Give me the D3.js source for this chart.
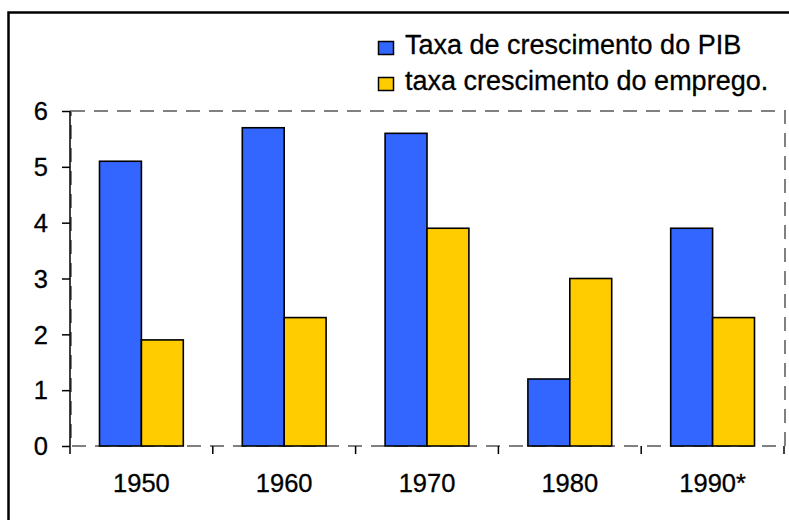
<!DOCTYPE html>
<html><head><meta charset="utf-8">
<script src="https://cdn.jsdelivr.net/npm/d3@7"></script>
<style>html,body{margin:0;padding:0;background:#fff;} svg{display:block;}</style>
</head><body>
<svg id="chart" width="789" height="520"></svg>
<script>
const categories = ["1950", "1960", "1970", "1980", "1990*"];
const seriesNames = ["Taxa de crescimento do PIB", "taxa crescimento do emprego."];
const pibValues = [5.1, 5.7, 5.6, 1.2, 3.9];
const empregoValues = [1.9, 2.3, 3.9, 3.0, 2.3];
const yTicks = [0, 1, 2, 3, 4, 5, 6];
const colors = ["#3366FF", "#FFCC00"];

(function () {
const svg = d3.select("#chart");
const font = "Liberation Sans, Arial, sans-serif";
const fs = 25.5;
const lfs = 27;

// outer border (extends beyond the picture at right/bottom)
svg.append("rect").attr("x", 8.5).attr("y", 12.5).attr("width", 800).attr("height", 530)
  .attr("fill", "none").attr("stroke", "#000").attr("stroke-width", 2.5);

const pl = 70, pr = 784, pt = 111, pb = 446;
const x = d3.scaleBand().domain(categories).range([pl, pr]).padding(0);
const step = x.step();
const gap = 29.5;
const x1 = d3.scaleBand().domain([0, 1]).range([gap, step - gap]).padding(0);
const y = d3.scaleLinear().domain([0, 6]).range([pb, pt]);

// dashed plot area
svg.append("rect").attr("x", pl + 1).attr("y", pt).attr("width", pr - pl).attr("height", pb - pt)
  .attr("fill", "none").attr("stroke", "#808080").attr("stroke-width", 2).attr("stroke-dasharray", "14,9");

// bars
const data = categories.map((c, i) => ({ c, vals: [pibValues[i], empregoValues[i]] }));
const g = svg.append("g");
g.selectAll("g.cat").data(data).join("g").attr("class", "cat")
  .attr("transform", d => `translate(${x(d.c)},0)`)
  .selectAll("rect").data(d => d.vals.map((v, k) => ({ v, k }))).join("rect")
  .attr("x", d => x1(d.k)).attr("width", x1.bandwidth())
  .attr("y", d => y(d.v)).attr("height", d => y(0) - y(d.v))
  .attr("fill", d => colors[d.k]).attr("stroke", "#000").attr("stroke-width", 1.6);

// y axis
const yAxis = d3.axisLeft(y).tickValues(yTicks).tickSize(8).tickPadding(14).tickFormat(d3.format("d"));
const ya = svg.append("g").attr("transform", `translate(${pl},0)`).call(yAxis);
ya.select(".domain").attr("stroke", "#000").attr("stroke-width", 1.5).attr("d", `M0,${pt}V${pb}`);
ya.selectAll(".tick line").attr("stroke", "#000").attr("stroke-width", 1.5);
ya.selectAll(".tick text").attr("font-family", font).attr("font-size", fs).attr("fill", "#000")
  .attr("dy", "0.34em").attr("stroke", "#000").attr("stroke-width", 0.3);

// x axis ticks at category boundaries
const bounds = categories.map(c => x(c)).concat([pr]);
svg.append("g").selectAll("line").data(bounds).join("line")
  .attr("x1", d => d).attr("x2", d => d).attr("y1", pb).attr("y2", pb + 8)
  .attr("stroke", "#000").attr("stroke-width", 1.5);
svg.append("g").selectAll("text").data(categories).join("text")
  .attr("x", d => x(d) + step / 2).attr("y", 492).attr("text-anchor", "middle")
  .attr("font-family", font).attr("font-size", fs).attr("fill", "#000")
  .attr("stroke", "#000").attr("stroke-width", 0.3).text(d => d);

// legend
const lg = svg.append("g");
seriesNames.forEach((name, i) => {
  const by = 54 + i * 36;
  lg.append("rect").attr("x", 378.5).attr("y", by - 12.5).attr("width", 15).attr("height", 13)
    .attr("fill", colors[i]).attr("stroke", "#000").attr("stroke-width", 1.5);
  lg.append("text").attr("x", 405).attr("y", by).attr("font-family", font).attr("font-size", lfs)
    .attr("fill", "#000").attr("stroke", "#000").attr("stroke-width", 0.3).text(name);
});
})();
</script>
</body></html>
